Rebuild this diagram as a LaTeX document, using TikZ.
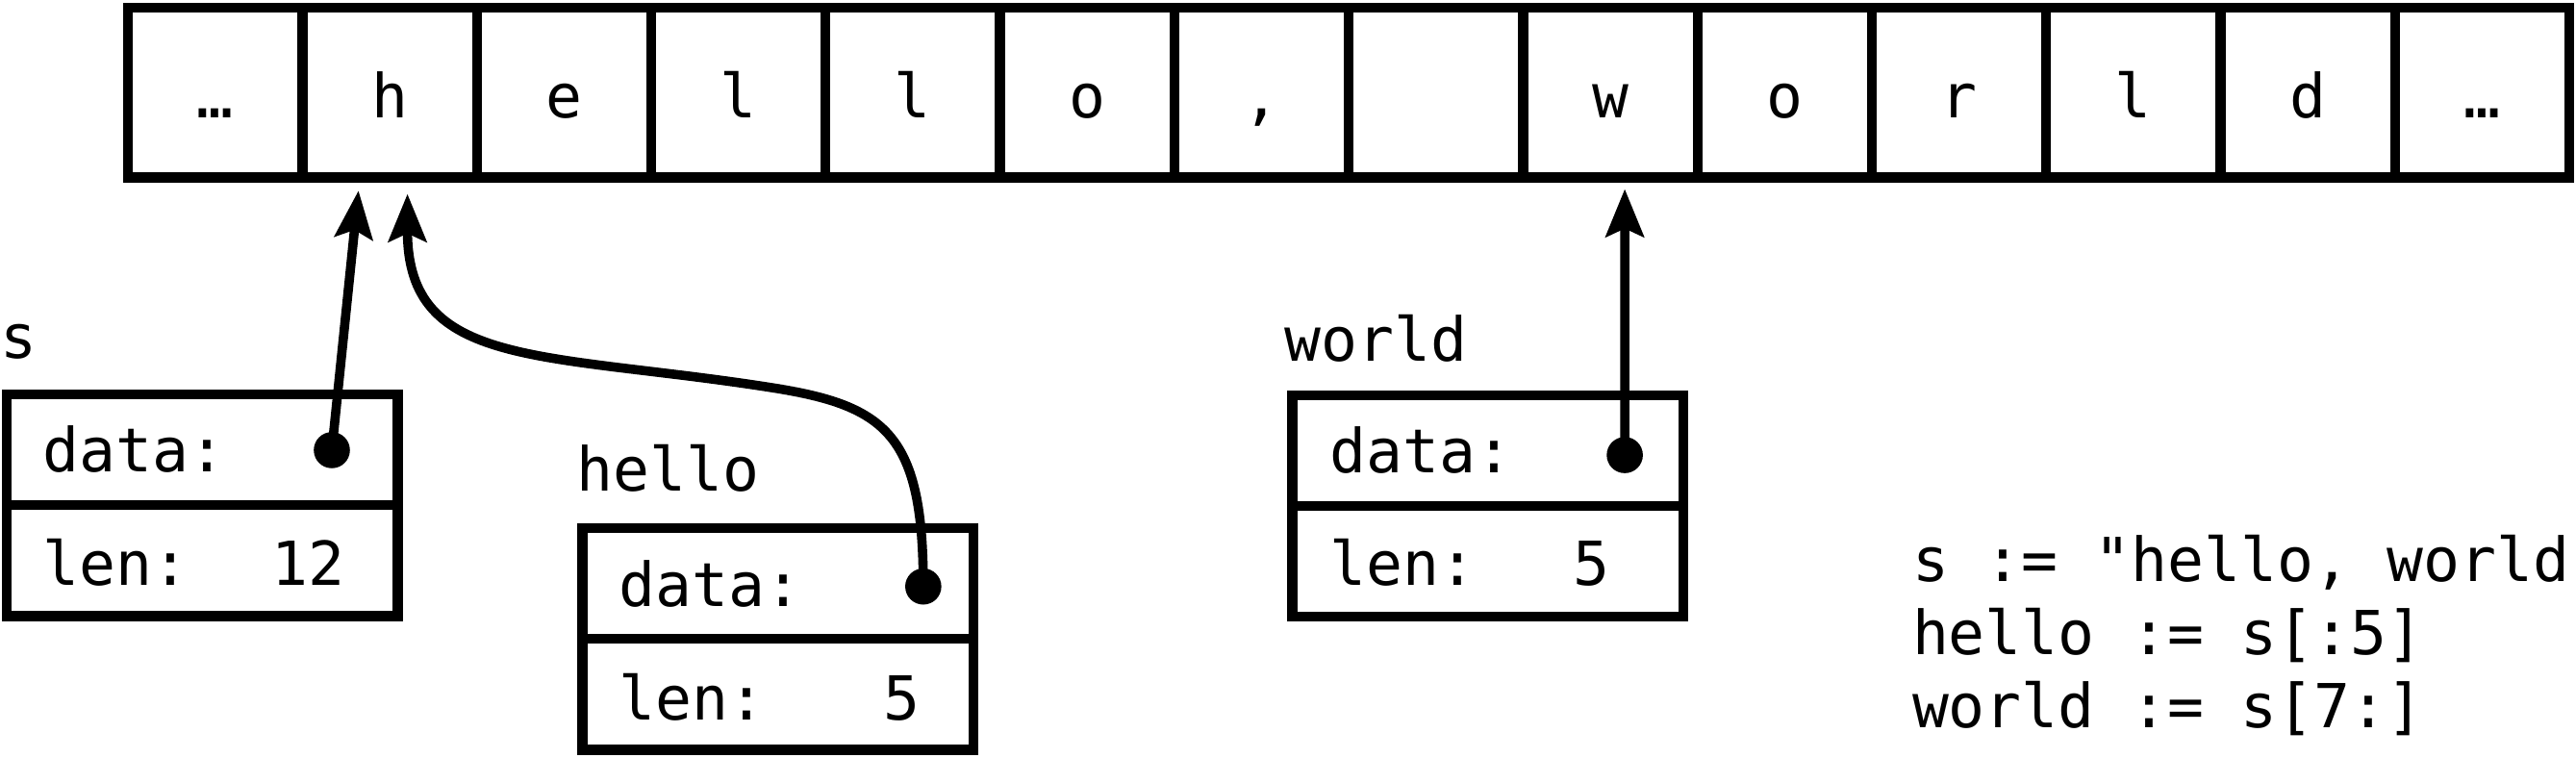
\documentclass[tikz,border=0pt]{standalone}
\usepackage{fontspec}
\setmonofont{DejaVu Sans Mono}
\usetikzlibrary{arrows.meta,calc}
\begin{document}
\begin{tikzpicture}[x=0.01cm,y=-0.01cm,
  every node/.style={font=\ttfamily\fontsize{10.5}{12}\selectfont, inner sep=0pt, outer sep=0pt},
  cell/.style={draw, line width=1.7pt, minimum width=1.0614cm, minimum height=1.035cm, text height=8.9pt, text depth=0pt},
  field/.style={draw, line width=1.7pt, minimum width=2.38cm, minimum height=0.675cm},
  txt/.style={anchor=base west},
  val/.style={anchor=base east},
  dotmark/.style={circle, fill, minimum size=0.22cm},
  ptr/.style={line width=1.6pt, -{Stealth[length=0.29cm, width=0.23cm, inset=0.05cm]}}
]
\useasboundingbox (0,0) rectangle (1568,461);

% memory array
\foreach \t [count=\i from 0] in {…,h,e,l,l,o,{,},{},w,o,r,l,d,…}
  \node[cell] (c\i) at ({78+106.14*(\i+0.5)},56.25) {\t};

% s
\node[txt] (slabel) at (0,218) {s};
\node[field] (sdata) at (123,273.75) {};
\node[field] (slen) at (123,341.25) {};
\node[txt] (sdatat) at (26,287) {data:};
\node[txt] (slent) at (26,356) {len:};
\node[val] (slenv) at (210,356) {12};
\node[dotmark] (sdot) at (202,274) {};

% hello
\node[txt] (hlabel) at (351,299) {hello};
\node[field] (hdata) at (473.6,355.15) {};
\node[field] (hlen) at (473.6,422.65) {};
\node[txt] (hdatat) at (376.6,369) {data:};
\node[txt] (hlent) at (376.6,438) {len:};
\node[val] (hlenv) at (560,438) {5};
\node[dotmark] (hdot) at (562,357) {};

% world
\node[txt] (wlabel) at (782,220) {world};
\node[field] (wdata) at (905.7,274.25) {};
\node[field] (wlen) at (905.7,341.75) {};
\node[txt] (wdatat) at (809.5,288) {data:};
\node[txt] (wlent) at (809.5,356) {len:};
\node[val] (wlenv) at (980,356) {5};
\node[dotmark] (wdot) at (989,277) {};

% pointer targets
\coordinate (stip) at ($(c1.south)+(-19,8)$);
\coordinate (htip) at ($(c1.south)+(10.8,10)$);
\coordinate (wtip) at ($(c8.south)+(8.8,7)$);

\draw[ptr] (sdot.center) -- (stip);
\draw[ptr] (hdot.center) .. controls (562,265) and (540,247) .. (470,236)
  .. controls (330,214) and (248,225) .. (htip);
\draw[ptr] (wdot.center) -- (wtip);

% code
\node[txt] (code1) at (1164,354) {s := "hello, world};
\node[txt] (code2) at (1164,398.5) {hello := s[:5]};
\node[txt] (code3) at (1164,443) {world := s[7:]};
\end{tikzpicture}
\end{document}
